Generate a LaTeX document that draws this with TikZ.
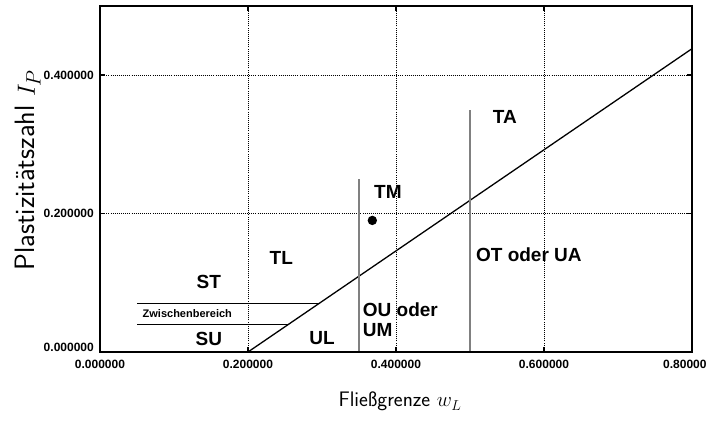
\documentclass[tikz,border=0pt]{standalone}
\usepackage{fontspec}
\setmainfont{Liberation Sans}
\begin{document}
\begin{tikzpicture}[x=1pt,y=1pt,
  lab/.style={font=\bfseries\fontsize{19}{20}\selectfont, inner sep=0pt},
  smalllab/.style={font=\bfseries\fontsize{11}{12}\selectfont, inner sep=0pt},
  ticklab/.style={font=\bfseries\fontsize{12}{13}\selectfont, inner sep=0pt},
  axtitle/.style={font=\sffamily\fontsize{21}{24}\selectfont, inner sep=0pt},
  yaxtitle/.style={font=\sffamily\fontsize{28}{30}\selectfont, inner sep=0pt},
  gridline/.style={line width=0.9pt, dash pattern=on 1pt off 1.1pt},
  frame/.style={line width=2pt},
  aline/.style={line width=1.3pt},
  grayline/.style={line width=1.5pt, draw=black!50},
  thinline/.style={line width=0.9pt},
  tickmark/.style={line width=1.2pt}]
\useasboundingbox (0,0) rectangle (717,425);
\begin{scope}[shift={(100pt,73pt)}, x=740pt, y=692.5pt]
  \coordinate (O) at (0,0);
  \coordinate (TR) at (0.8,0.5);
  % grid
  \foreach \v in {0.2,0.4,0.6}{
    \draw[gridline] (\v,0) -- (\v,0.5);
    \draw[tickmark] (\v,0) -- ++(0,5pt);
    \draw[tickmark] (\v,0.5) -- ++(0,-5pt);
  }
  \foreach \v in {0.2,0.4}{
    \draw[gridline] (0,\v) -- (0.8,\v);
    \draw[tickmark] (0,\v) -- ++(5pt,0);
    \draw[tickmark] (0.8,\v) -- ++(-5pt,0);
  }
  % region lines
  \coordinate (A0) at (0.2,0);
  \coordinate (A1) at (0.8,0.438);
  \draw[aline] (A0) -- (A1);
  \coordinate (g1b) at (0.35,0);
  \coordinate (g1t) at (0.35,0.25);
  \coordinate (g2b) at (0.5,0);
  \coordinate (g2t) at (0.5,0.35);
  \draw[grayline] (g1b) -- (g1t);
  \draw[grayline] (g2b) -- (g2t);
  \coordinate (z1l) at (0.05,0.07);
  \coordinate (z1r) at (0.2959,0.07);
  \coordinate (z2l) at (0.05,0.04);
  \coordinate (z2r) at (0.2548,0.04);
  \draw[thinline] (z1l) -- (z1r);
  \draw[thinline] (z2l) -- (z2r);
  \fill (0.368,0.19) circle (4.7pt);
  \draw[frame] (O) rectangle (TR);
  % tick labels
  \node[ticklab, anchor=east] (y0) at ([xshift=-6pt]0,0.006) {0.000000};
  \node[ticklab, anchor=east] (y2) at ([xshift=-6pt]0,0.2) {0.200000};
  \node[ticklab, anchor=east] (y4) at ([xshift=-6pt]0,0.4) {0.400000};
  \node[ticklab] (x0) at ([yshift=-12pt]0,0) {0.000000};
  \node[ticklab] (x2) at ([yshift=-12pt]0.2,0) {0.200000};
  \node[ticklab] (x4) at ([yshift=-12pt]0.4,0) {0.400000};
  \node[ticklab] (x6) at ([yshift=-12pt]0.6,0) {0.600000};
  \node[ticklab, anchor=west] (x8) at ([yshift=-12pt,xshift=-29pt]0.8,0) {0.80000};
  % region labels
  \node[lab] (TA) at (0.547,0.339) {TA};
  \node[lab] (TM) at (0.389,0.231) {TM};
  \node[lab] (TL) at (0.245,0.136) {TL};
  \node[lab] (ST) at (0.147,0.101) {ST};
  \node[smalllab] (ZB) at (0.118,0.055) {Zwischenbereich};
  \node[lab] (SU) at (0.147,0.019) {SU};
  \node[lab] (UL) at (0.300,0.020) {UL};
  \node[lab, anchor=west, align=left] (OU) at (0.355,0.046) {OU oder\\UM};
  \node[lab, anchor=west] (OT) at (0.508,0.140) {OT oder UA};
\end{scope}
\node[yaxtitle, rotate=90, anchor=base] (ytitle) at (35,255) {Plastizitätszahl $I_P$};
\node[axtitle, anchor=base] (xtitle) at (400,18) {Fließgrenze $w_L$};
\end{tikzpicture}
\end{document}
